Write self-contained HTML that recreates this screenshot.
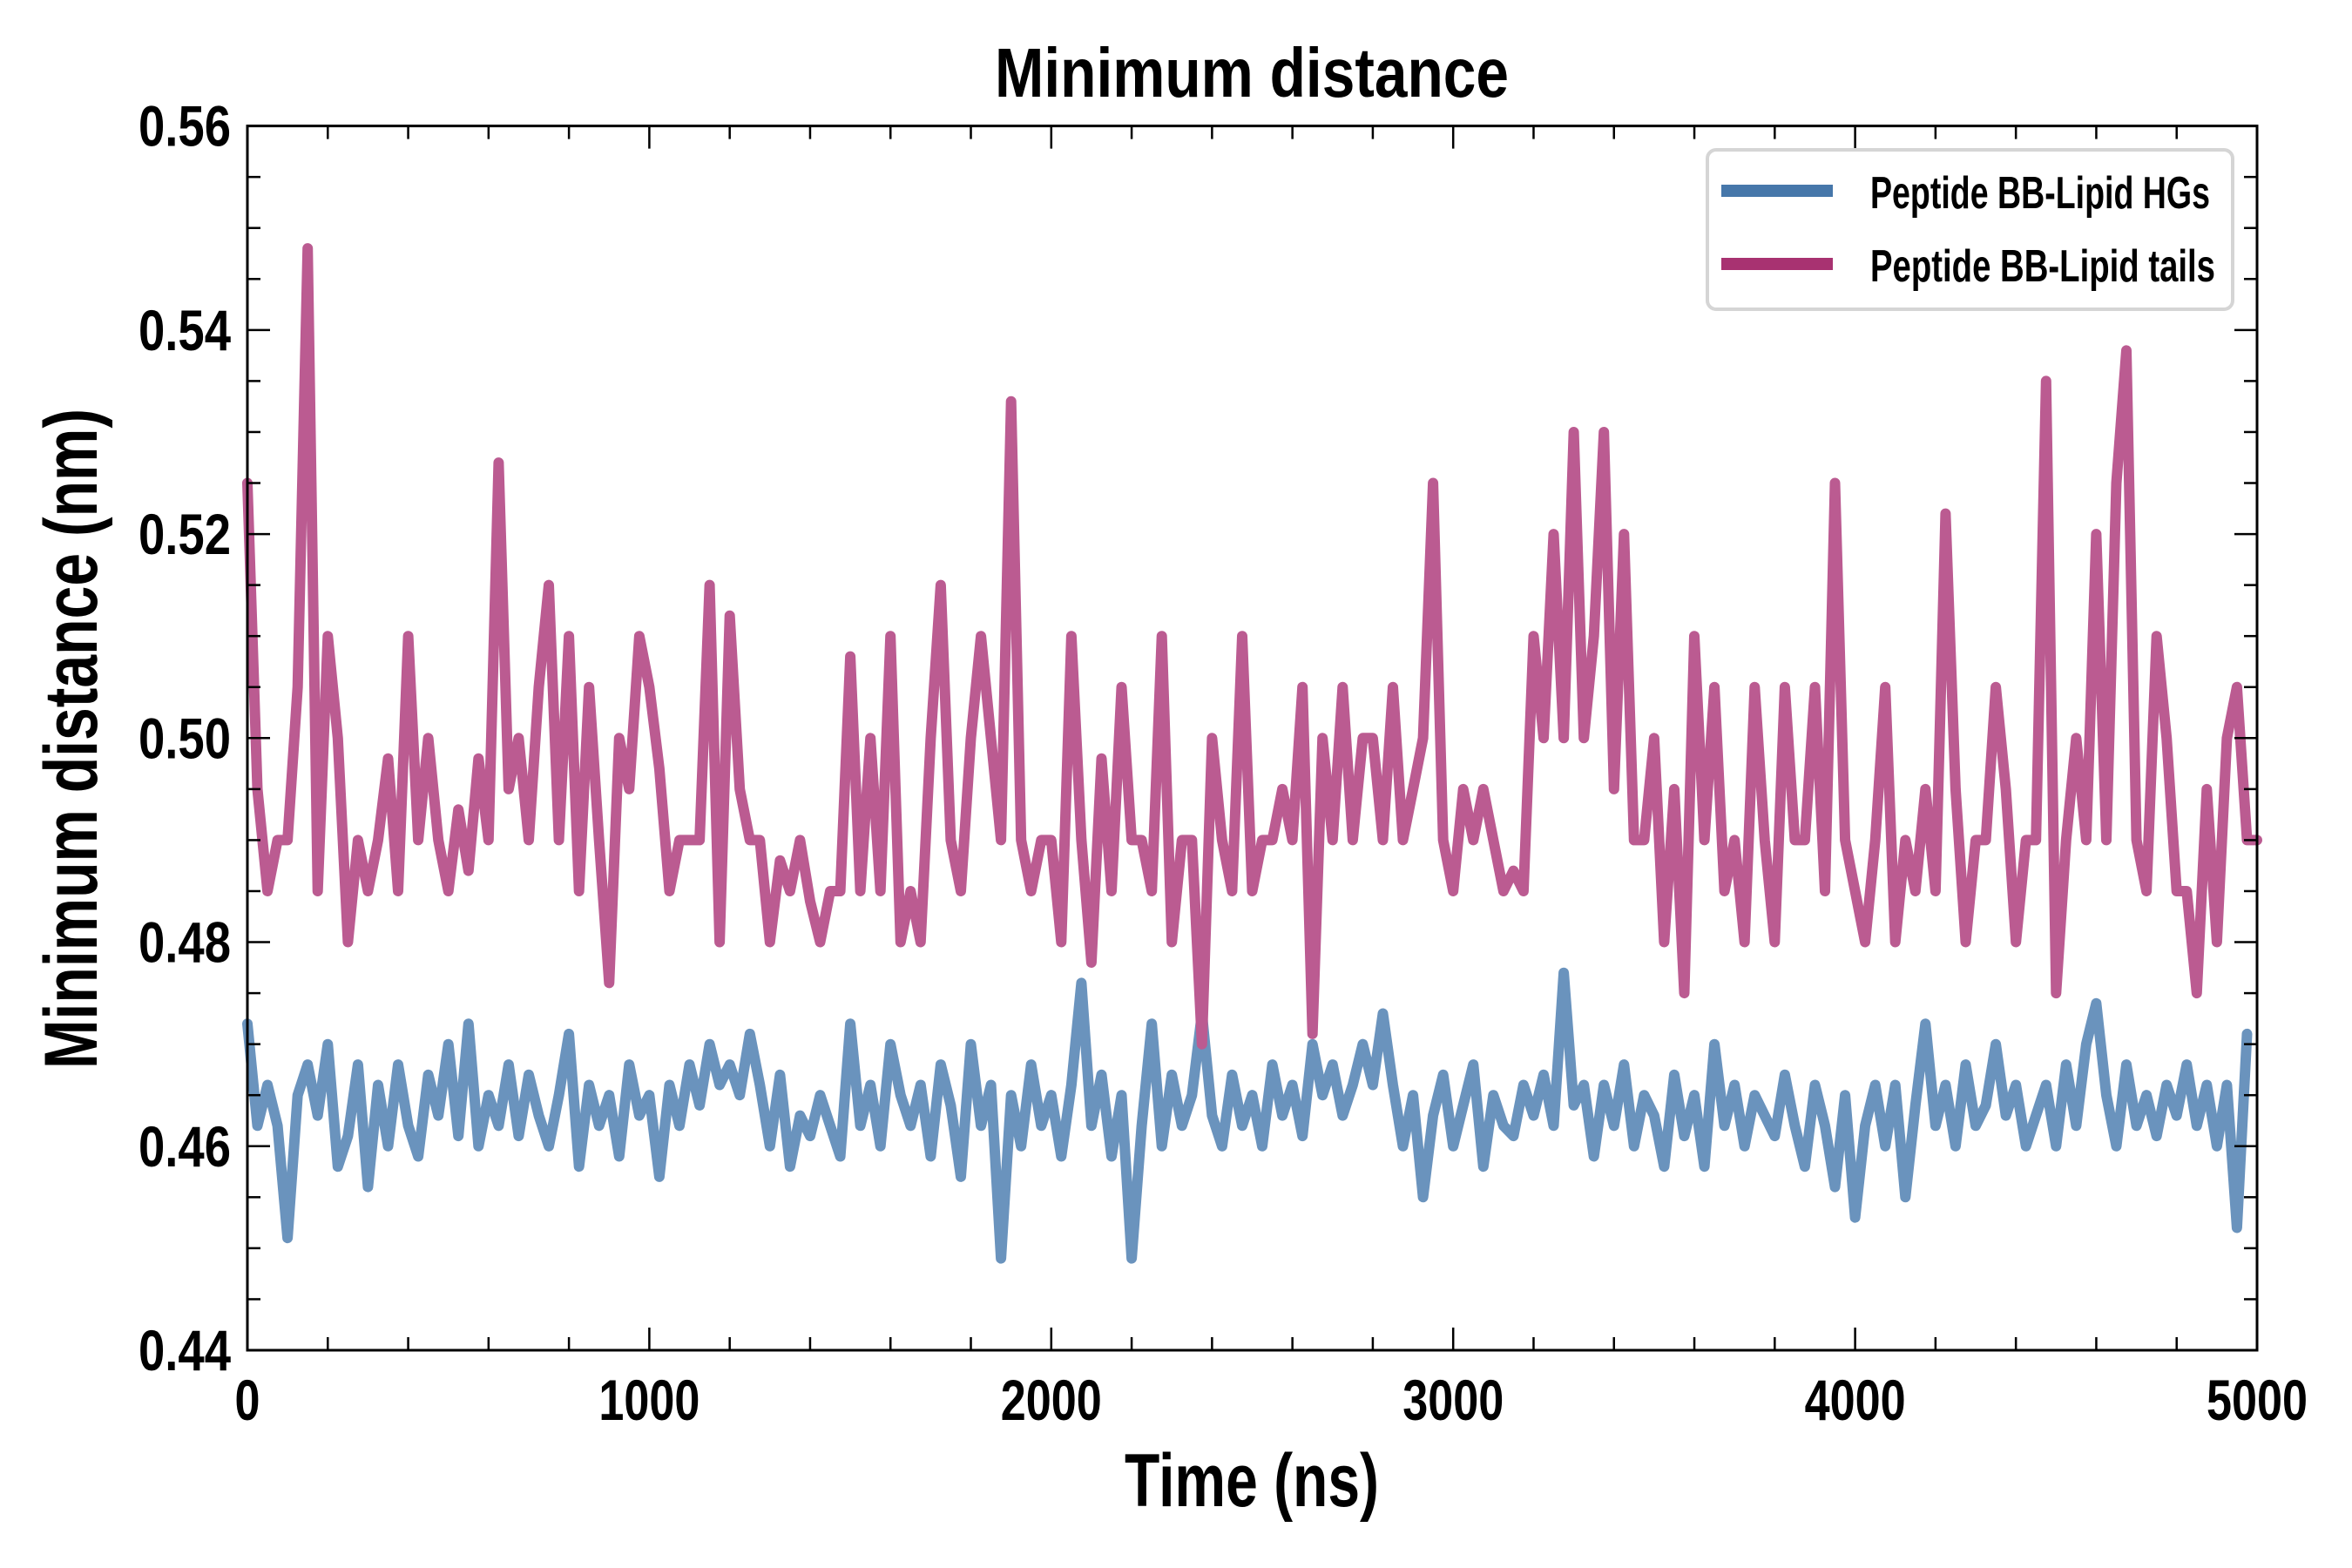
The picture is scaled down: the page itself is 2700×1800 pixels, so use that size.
<!DOCTYPE html>
<html><head><meta charset="utf-8"><style>
html,body{margin:0;padding:0;background:#fff;}
svg{display:block;}
text{font-family:"Liberation Sans",sans-serif;font-weight:bold;fill:#000;}
</style></head><body>
<svg id="chart" width="2700" height="1800" viewBox="0 0 2700 1800">
<rect x="0" y="0" width="2700" height="1800" fill="#fff"/>
<text x="1437" y="111" text-anchor="middle" font-size="80" textLength="590" lengthAdjust="spacingAndGlyphs">Minimum distance</text>
<g id="series"></g>
<g id="axes"></g>
<text x="1437" y="1729" text-anchor="middle" font-size="86" textLength="292" lengthAdjust="spacingAndGlyphs">Time (ns)</text>
<text transform="translate(111,848) rotate(-90)" text-anchor="middle" font-size="86" textLength="758" lengthAdjust="spacingAndGlyphs">Minimum distance (nm)</text>
<g>
<rect x="1960" y="172" width="603" height="183" rx="10" fill="#fff" stroke="#d5d5d5" stroke-width="4"/>
<line x1="1976" y1="219" x2="2104" y2="219" stroke="#4677aa" stroke-width="14"/>
<text x="2147" y="239" font-size="52" textLength="390" lengthAdjust="spacingAndGlyphs">Peptide BB-Lipid HGs</text>
<line x1="1976" y1="303" x2="2104" y2="303" stroke="#a83271" stroke-width="14"/>
<text x="2147" y="323" font-size="52" textLength="396" lengthAdjust="spacingAndGlyphs">Peptide BB-Lipid tails</text>
</g>
</svg>
<script>
const timeStep = 25;
const tailsValues = [0.525,0.495,0.485,0.49,0.49,0.505,0.548,0.485,0.51,0.50,0.48,0.49,0.485,0.49,0.498,0.485,0.51,0.49,0.50,0.49,0.485,0.493,0.487,0.498,0.49,0.527,0.495,0.50,0.49,0.505,0.515,0.49,0.51,0.485,0.505,0.49,0.476,0.50,0.495,0.51,0.505,0.497,0.485,0.49,0.49,0.49,0.515,0.48,0.512,0.495,0.49,0.49,0.48,0.488,0.485,0.49,0.484,0.48,0.485,0.485,0.508,0.485,0.50,0.485,0.51,0.48,0.485,0.48,0.50,0.515,0.49,0.485,0.50,0.51,0.50,0.49,0.533,0.49,0.485,0.49,0.49,0.48,0.51,0.49,0.478,0.498,0.485,0.505,0.49,0.49,0.485,0.51,0.48,0.49,0.49,0.47,0.50,0.49,0.485,0.51,0.485,0.49,0.49,0.495,0.49,0.505,0.471,0.50,0.49,0.505,0.49,0.50,0.50,0.49,0.505,0.49,0.495,0.50,0.525,0.49,0.485,0.495,0.49,0.495,0.49,0.485,0.487,0.485,0.51,0.50,0.52,0.50,0.53,0.50,0.51,0.53,0.495,0.52,0.49,0.49,0.50,0.48,0.495,0.475,0.51,0.49,0.505,0.485,0.49,0.48,0.505,0.49,0.48,0.505,0.49,0.49,0.505,0.485,0.525,0.49,0.485,0.48,0.49,0.505,0.48,0.49,0.485,0.495,0.485,0.522,0.495,0.48,0.49,0.49,0.505,0.495,0.48,0.49,0.49,0.535,0.475,0.49,0.50,0.49,0.52,0.49,0.525,0.538,0.49,0.485,0.51,0.50,0.485,0.485,0.475,0.495,0.48,0.50,0.505,0.49,0.49];
const hgsValues = [0.472,0.462,0.466,0.462,0.451,0.465,0.468,0.463,0.470,0.458,0.461,0.468,0.456,0.466,0.460,0.468,0.462,0.459,0.467,0.463,0.470,0.461,0.472,0.460,0.465,0.462,0.468,0.461,0.467,0.463,0.460,0.465,0.471,0.458,0.466,0.462,0.465,0.459,0.468,0.463,0.465,0.457,0.466,0.462,0.468,0.464,0.470,0.466,0.468,0.465,0.471,0.466,0.460,0.467,0.458,0.463,0.461,0.465,0.462,0.459,0.472,0.462,0.466,0.460,0.470,0.465,0.462,0.466,0.459,0.468,0.464,0.457,0.470,0.462,0.466,0.449,0.465,0.460,0.468,0.462,0.465,0.459,0.466,0.476,0.462,0.467,0.459,0.465,0.449,0.462,0.472,0.460,0.467,0.462,0.465,0.473,0.463,0.460,0.467,0.462,0.465,0.460,0.468,0.463,0.466,0.461,0.470,0.465,0.468,0.463,0.466,0.470,0.466,0.473,0.466,0.460,0.465,0.455,0.463,0.467,0.460,0.464,0.468,0.458,0.465,0.462,0.461,0.466,0.463,0.467,0.462,0.477,0.464,0.466,0.459,0.466,0.462,0.468,0.460,0.465,0.463,0.458,0.467,0.461,0.465,0.458,0.470,0.462,0.466,0.460,0.465,0.463,0.461,0.467,0.462,0.458,0.466,0.462,0.456,0.465,0.453,0.462,0.466,0.460,0.466,0.455,0.464,0.472,0.462,0.466,0.460,0.468,0.462,0.464,0.470,0.463,0.466,0.460,0.463,0.466,0.460,0.468,0.462,0.470,0.474,0.465,0.460,0.468,0.462,0.465,0.461,0.466,0.463,0.468,0.462,0.466,0.460,0.466,0.452,0.471];
const xTickLabels = ["0","1000","2000","3000","4000","5000"];
const yTickLabels = ["0.44","0.46","0.48","0.50","0.52","0.54","0.56"];

const L=284,R=2591,T=144.6,B=1550;
const xMin=0,xMax=5000,yMin=0.44,yMax=0.56;
const NS="http://www.w3.org/2000/svg";
function xs(v){return L+(v-xMin)/(xMax-xMin)*(R-L);}
function ys(v){return B-(v-yMin)/(yMax-yMin)*(B-T);}
function mk(tag,attrs,parent){const e=document.createElementNS(NS,tag);for(const k in attrs)e.setAttribute(k,attrs[k]);parent.appendChild(e);return e;}

const sg=document.getElementById('series');
function drawSeries(vals,color,name){
  let d='';
  vals.forEach((v,i)=>{d+=(i?'L':'M')+xs(i*timeStep).toFixed(1)+','+ys(v).toFixed(1);});
  const p=mk('path',{d:d,fill:'none',stroke:color,'stroke-width':12,'stroke-linejoin':'round','stroke-linecap':'round'},sg);
  
  
}
drawSeries(hgsValues,'#6a93bd','line-lipid-hgs');
drawSeries(tailsValues,'#bb5b91','line-lipid-tails');

const ag=document.getElementById('axes');
const frame=mk('rect',{x:L,y:T,width:R-L,height:B-T,fill:'none',stroke:'#000','stroke-width':3},ag);


for(let v=0;v<=5000;v+=200){
  const major=v%1000===0,len=major?26:15,x=xs(v);
  const t1=mk('line',{x1:x,y1:B,x2:x,y2:B-len,stroke:'#000','stroke-width':2.5},ag);
  
  
  mk('line',{x1:x,y1:T,x2:x,y2:T+len,stroke:'#000','stroke-width':2.5},ag);
}
xTickLabels.forEach(s=>{
  const t=mk('text',{x:xs(+s),y:1630,'text-anchor':'middle','font-size':66,textLength:s.length*29,lengthAdjust:'spacingAndGlyphs'},ag);
  t.textContent=s;
  
  
});
for(let k=0;k<=24;k++){
  const v=yMin+k*0.005,major=k%4===0,len=major?26:15,y=ys(v);
  const t1=mk('line',{x1:L,y1:y,x2:L+len,y2:y,stroke:'#000','stroke-width':2.5},ag);
  
  
  mk('line',{x1:R,y1:y,x2:R-len,y2:y,stroke:'#000','stroke-width':2.5},ag);
}
yTickLabels.forEach(s=>{
  const t=mk('text',{x:265,y:ys(+s)+23,'text-anchor':'end','font-size':66,textLength:106,lengthAdjust:'spacingAndGlyphs'},ag);
  t.textContent=s;
  
  
});
</script>
</body></html>
